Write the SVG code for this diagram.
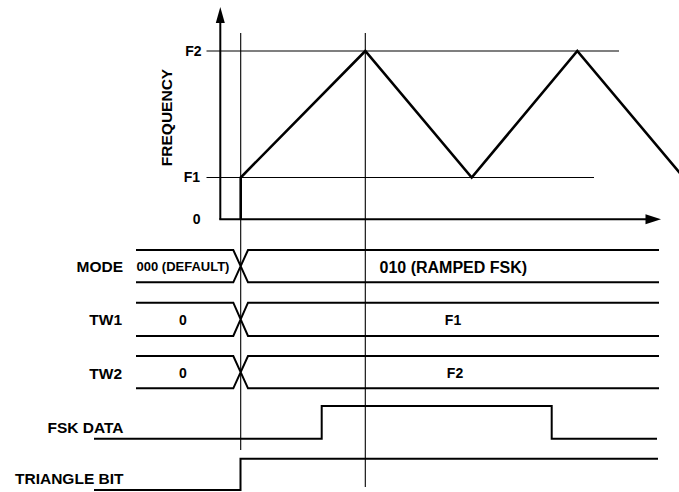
<svg xmlns="http://www.w3.org/2000/svg" width="679" height="492" viewBox="0 0 679 492">
  <style>
    text { font-family: "Liberation Sans", Arial, Helvetica, sans-serif; font-weight: bold; fill: #000; }
    .lbl { font-size: 15.5px; text-anchor: end; }
    .ax { font-size: 14px; text-anchor: end; }
    .val { font-size: 14px; text-anchor: middle; }
    .thin { stroke: #000; stroke-width: 1.1; fill: none; }
    .bus { stroke: #000; stroke-width: 2; fill: none; }
    .wave { stroke: #000; stroke-width: 2.6; fill: none; stroke-linejoin: miter; }
    .axis { stroke: #000; stroke-width: 2; fill: none; }
  </style>
  <rect width="679" height="492" fill="#fff"/>

  <g id="grid">
    <line class="thin" x1="206.5" y1="51" x2="619" y2="51"/>
    <line class="thin" x1="206.5" y1="177.5" x2="594" y2="177.5"/>
    <line class="thin" x1="240.7" y1="33" x2="240.7" y2="450"/>
    <line class="thin" x1="365.3" y1="33" x2="365.3" y2="487"/>
  </g>

  <g id="axes">
    <line class="axis" x1="220.3" y1="20" x2="220.3" y2="219.5"/>
    <polygon points="220.3,7 215.8,23 224.8,23" fill="#000"/>
    <line class="axis" x1="219.3" y1="219.3" x2="648" y2="219.3"/>
    <polygon points="661,219.3 645.5,214.3 645.5,224.3" fill="#000"/>
  </g>

  <g id="axis-labels">
    <text class="ax" x="201.5" y="56">F2</text>
    <text class="ax" x="200" y="182.3">F1</text>
    <text class="ax" x="200.5" y="224">0</text>
    <text class="lbl" style="text-anchor: middle" transform="translate(171.5,117.5) rotate(-90)">FREQUENCY</text>
  </g>

  <g id="triangle-wave">
    <polyline class="wave" points="240.7,219.3 240.7,177.5 365.3,51 471.7,177.5 577.3,51 684,178"/>
  </g>

  <g id="mode">
    <text class="lbl" x="123" y="271.7">MODE</text>
    <path class="bus" d="M136,250 H233.3 L248,282.3 H659 M136,282.3 H233.3 L248,250 H659"/>
    <text x="136.5" y="271" style="font-size:13px">000 (DEFAULT)</text>
    <text x="379.5" y="272.5" style="font-size:16px">010 (RAMPED FSK)</text>
  </g>

  <g id="tw1">
    <text class="lbl" x="122" y="325">TW1</text>
    <path class="bus" d="M136,302.7 H233.3 L248,336 H659 M136,336 H233.3 L248,302.7 H659"/>
    <text class="val" x="183" y="325">0</text>
    <text class="val" x="453" y="325">F1</text>
  </g>

  <g id="tw2">
    <text class="lbl" x="122" y="378.8">TW2</text>
    <path class="bus" d="M136,356 H233.3 L248,388.3 H659 M136,388.3 H233.3 L248,356 H659"/>
    <text class="val" x="183" y="377.5">0</text>
    <text class="val" x="455" y="377.5">F2</text>
  </g>

  <g id="fsk-data">
    <text class="lbl" x="123.5" y="432.5">FSK DATA</text>
    <path class="bus" d="M94,438.7 H321.7 V406 H551.7 V438.7 H657"/>
  </g>

  <g id="triangle-bit">
    <text class="lbl" x="123.5" y="484">TRIANGLE BIT</text>
    <path class="bus" d="M94,490 H240.5 V458.7 H658"/>
  </g>
</svg>
